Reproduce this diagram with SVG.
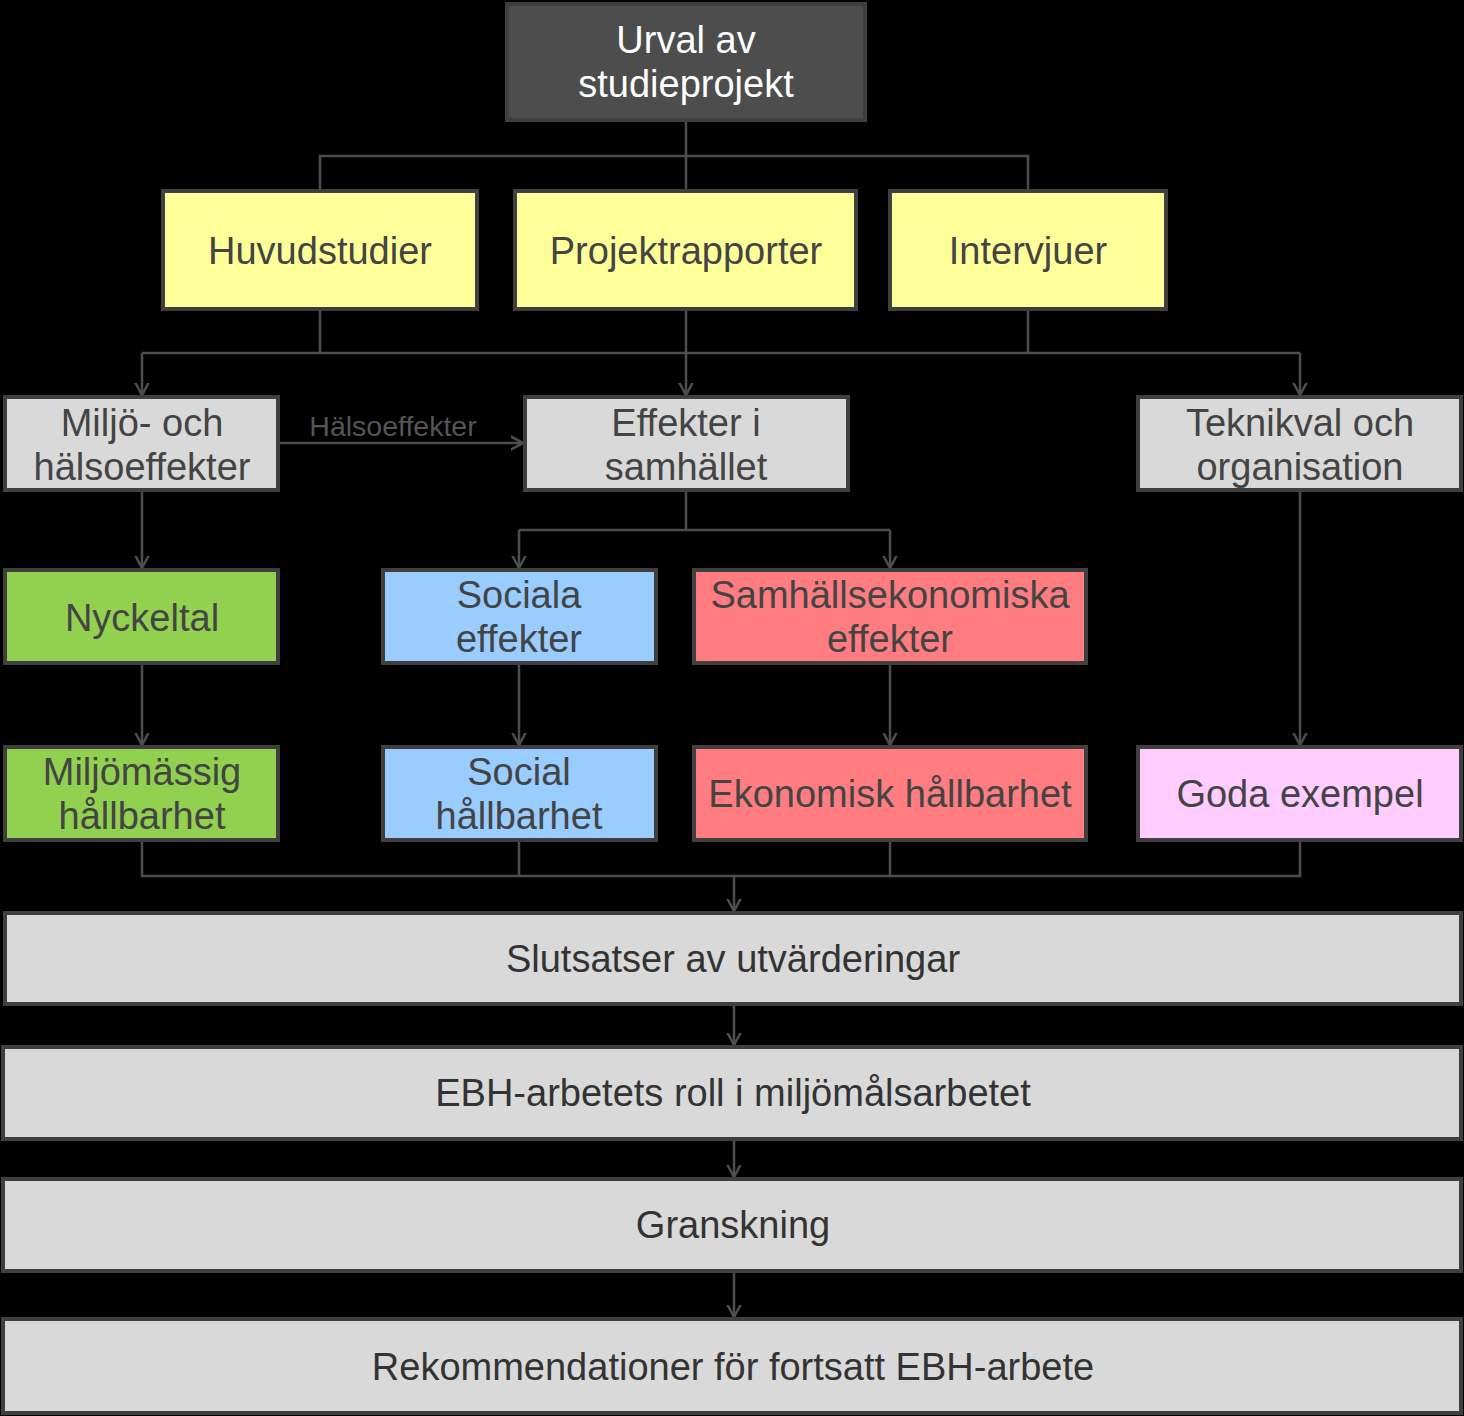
<svg xmlns="http://www.w3.org/2000/svg" width="1464" height="1416" viewBox="0 0 1464 1416">
<defs>
<marker id="arr" markerUnits="userSpaceOnUse" markerWidth="24" markerHeight="24" viewBox="-12 -12 24 24" refX="0" refY="0" orient="auto">
<path d="M-13,-7 L0,0 L-13,7" fill="none" stroke="#4d4d4d" stroke-width="2.5"/>
</marker>
<style>
.n{stroke:#3f3f3f;stroke-width:4}
.g{fill:#d9d9d9}.y{fill:#ffff99}.gr{fill:#92d050}.b{fill:#99ccff}.r{fill:#ff7c80}.p{fill:#ffccff}.d{fill:#4d4d4d}
text{font-family:"Liberation Sans",Arial,sans-serif;font-size:38px;fill:#444444;text-anchor:middle}
.w{fill:#ffffff}.k{fill:#333333}
.c{fill:none;stroke:#4d4d4d;stroke-width:2.5}
.lbl{font-size:28.5px;fill:#555555}
</style>
</defs>
<rect width="1464" height="1416" fill="#000000"/>
<g id="connectors">
<path class="c" d="M686,122 V190 M320,190 V156 H1028 V190"/>
<path class="c" d="M320,310 V353 M686,310 V353 M1028,310 V353 M142,353 H1300"/>
<path class="c" d="M142,353 V395" marker-end="url(#arr)"/>
<path class="c" d="M686,353 V395" marker-end="url(#arr)"/>
<path class="c" d="M1300,353 V395" marker-end="url(#arr)"/>
<path class="c" d="M278,443 H523" marker-end="url(#arr)"/>
<text class="lbl" x="393" y="436">Hälsoeffekter</text>
<path class="c" d="M686,491 V530 M519,530 H890"/>
<path class="c" d="M519,530 V568" marker-end="url(#arr)"/>
<path class="c" d="M890,530 V568" marker-end="url(#arr)"/>
<path class="c" d="M142,491 V568" marker-end="url(#arr)"/>
<path class="c" d="M142,664 V745" marker-end="url(#arr)"/>
<path class="c" d="M519,664 V745" marker-end="url(#arr)"/>
<path class="c" d="M890,664 V745" marker-end="url(#arr)"/>
<path class="c" d="M1300,491 V745" marker-end="url(#arr)"/>
<path class="c" d="M142,841 V876 H1300 V841 M519,841 V876 M890,841 V876"/>
<path class="c" d="M734,876 V911" marker-end="url(#arr)"/>
<path class="c" d="M734,1005 V1045" marker-end="url(#arr)"/>
<path class="c" d="M734,1140 V1177" marker-end="url(#arr)"/>
<path class="c" d="M734,1272 V1317" marker-end="url(#arr)"/>
</g>
<g id="urval"><rect class="n d" x="507" y="4" width="358" height="116"/><text class="w" x="686" y="53">Urval av</text><text class="w" x="686" y="97">studieprojekt</text></g>
<g id="huvudstudier"><rect class="n y" x="163" y="191" width="314" height="118"/><text x="320" y="264">Huvudstudier</text></g>
<g id="projektrapporter"><rect class="n y" x="515" y="191" width="341" height="118"/><text x="686" y="264">Projektrapporter</text></g>
<g id="intervjuer"><rect class="n y" x="890" y="191" width="276" height="118"/><text x="1028" y="264">Intervjuer</text></g>
<g id="miljo-halsa"><rect class="n g" x="5" y="397" width="273" height="93"/><text x="142" y="436">Miljö- och</text><text x="142" y="480">hälsoeffekter</text></g>
<g id="effekter"><rect class="n g" x="525" y="397" width="323" height="93"/><text x="686" y="436">Effekter i</text><text x="686" y="480">samhället</text></g>
<g id="teknikval"><rect class="n g" x="1138" y="397" width="323" height="93"/><text x="1300" y="436">Teknikval och</text><text x="1300" y="480">organisation</text></g>
<g id="nyckeltal"><rect class="n gr" x="5" y="570" width="273" height="93"/><text x="142" y="631">Nyckeltal</text></g>
<g id="sociala"><rect class="n b" x="383" y="570" width="273" height="93"/><text x="519" y="608">Sociala</text><text x="519" y="652">effekter</text></g>
<g id="samhallsekonomiska"><rect class="n r" x="694" y="570" width="392" height="93"/><text x="890" y="608">Samhällsekonomiska</text><text x="890" y="652">effekter</text></g>
<g id="miljomassig"><rect class="n gr" x="5" y="747" width="273" height="93"/><text x="142" y="785">Miljömässig</text><text x="142" y="829">hållbarhet</text></g>
<g id="social"><rect class="n b" x="383" y="747" width="273" height="93"/><text x="519" y="785">Social</text><text x="519" y="829">hållbarhet</text></g>
<g id="ekonomisk"><rect class="n r" x="694" y="747" width="392" height="93"/><text x="890" y="807">Ekonomisk hållbarhet</text></g>
<g id="goda"><rect class="n p" x="1138" y="747" width="323" height="93"/><text x="1300" y="807">Goda exempel</text></g>
<g id="slutsatser"><rect class="n g" x="5" y="913" width="1456" height="91"/><text class="k" x="733" y="972">Slutsatser av utvärderingar</text></g>
<g id="ebh"><rect class="n g" x="3" y="1047" width="1458" height="92"/><text class="k" x="733" y="1106">EBH-arbetets roll i miljömålsarbetet</text></g>
<g id="granskning"><rect class="n g" x="3" y="1179" width="1458" height="92"/><text class="k" x="733" y="1238">Granskning</text></g>
<g id="rekommendationer"><rect class="n g" x="3" y="1319" width="1458" height="94"/><text class="k" x="733" y="1380">Rekommendationer för fortsatt EBH-arbete</text></g>
</svg>
